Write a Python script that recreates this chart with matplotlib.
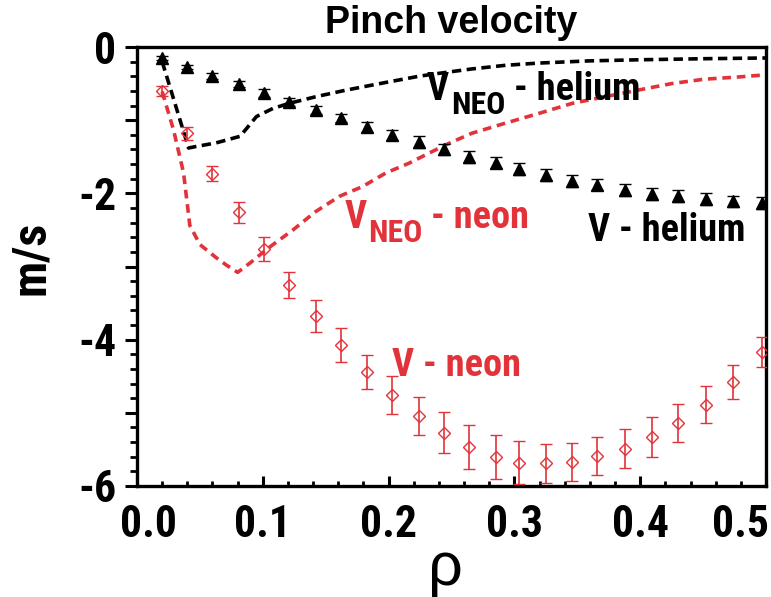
import matplotlib
matplotlib.use('Agg')
import matplotlib.pyplot as plt
import matplotlib.ticker as mticker
import matplotlib.transforms as mtransforms
from matplotlib import font_manager as fm
from matplotlib.font_manager import FontProperties
from matplotlib.textpath import TextPath

RED = '#e2323a'
WIDE = ['Liberation Sans', 'DejaVu Sans']
NARROW_CANDIDATES = ['Liberation Sans Narrow', 'Arial Narrow', 'Nimbus Sans Narrow', 'Archivo Narrow',
                     'Roboto Condensed', 'PT Sans Narrow', 'Fira Sans Condensed',
                     'IBM Plex Sans Condensed', 'Asap Condensed', 'Sofia Sans Condensed']

rho = [0.020, 0.040, 0.060, 0.081, 0.101, 0.121, 0.142, 0.162, 0.183, 0.203, 0.224, 0.244,
       0.264, 0.285, 0.304, 0.325, 0.346, 0.366, 0.388, 0.409, 0.430, 0.452, 0.474, 0.497]
v_helium = [-0.15, -0.27, -0.40, -0.51, -0.63, -0.75, -0.86, -0.97, -1.09, -1.20, -1.30, -1.40,
            -1.50, -1.58, -1.67, -1.75, -1.83, -1.88, -1.95, -2.01, -2.04, -2.08, -2.11, -2.13]
v_helium_err = [0.03, 0.03, 0.04, 0.04, 0.05, 0.05, 0.06, 0.06, 0.07, 0.07, 0.08, 0.08,
                0.08, 0.08, 0.08, 0.08, 0.08, 0.08, 0.08, 0.08, 0.08, 0.08, 0.08, 0.08]
v_neon = [-0.60, -1.18, -1.73, -2.26, -2.76, -3.25, -3.68, -4.07, -4.44, -4.76, -5.04, -5.27,
          -5.47, -5.60, -5.68, -5.69, -5.67, -5.59, -5.49, -5.33, -5.14, -4.89, -4.58, -4.17]
v_neon_err = [0.07, 0.09, 0.10, 0.14, 0.16, 0.18, 0.22, 0.23, 0.23, 0.26, 0.26, 0.28,
              0.30, 0.30, 0.29, 0.27, 0.26, 0.26, 0.27, 0.27, 0.26, 0.25, 0.23, 0.20]

# neoclassical predictions
neo_helium_rho = [0.020, 0.041, 0.047, 0.063, 0.082, 0.095, 0.108, 0.121, 0.142, 0.166, 0.193,
                  0.224, 0.240, 0.266, 0.293, 0.319, 0.359, 0.398, 0.451, 0.500]
neo_helium = [-0.20, -1.38, -1.36, -1.31, -1.22, -0.95, -0.84, -0.77, -0.68, -0.59, -0.50,
              -0.40, -0.36, -0.30, -0.25, -0.22, -0.19, -0.175, -0.16, -0.15]
neo_neon_rho = [0.020, 0.029, 0.037, 0.042, 0.050, 0.063, 0.071, 0.080, 0.090, 0.105, 0.124,
                0.142, 0.161, 0.179, 0.198, 0.216, 0.245, 0.266, 0.293, 0.319, 0.346, 0.372,
                0.398, 0.425, 0.451, 0.478, 0.500]
neo_neon = [-0.61, -1.13, -1.72, -2.44, -2.70, -2.88, -2.98, -3.08, -2.95, -2.74, -2.50,
            -2.25, -2.04, -1.91, -1.72, -1.59, -1.34, -1.18, -1.04, -0.91, -0.77, -0.68,
            -0.59, -0.50, -0.44, -0.41, -0.38]

x_ticks = [0.0, 0.1, 0.2, 0.3, 0.4, 0.5]
x_tick_labels = ['0.0', '0.1', '0.2', '0.3', '0.4', '0.5']
y_ticks = [0, -1, -2, -3, -4, -5, -6]
y_tick_labels = ['0', '', '-2', '', '-4', '', '-6']


def as_weight(w):
    try:
        return int(w)
    except (TypeError, ValueError):
        return 700 if 'bold' in str(w).lower() else 400


def pick_narrow():
    weights = {}
    for f in fm.fontManager.ttflist:
        weights.setdefault(f.name, set()).add(as_weight(f.weight))
    for name in NARROW_CANDIDATES:
        if any(w >= 700 for w in weights.get(name, ())):
            return name
    return 'Liberation Sans'


def fit_size(text, ink_px, family, weight='bold'):
    # font size (pt) giving the wanted ink width in pixels at 100 dpi
    prop = FontProperties(family=family, weight=weight)
    ext = TextPath((0, 0), text, size=100, prop=prop).get_extents().width
    return ink_px * 72 / ext


def label_with_sub(ax, x, y, sub, rest, color, family, size, sub_size):
    # "V" + subscript + rest, chained so that each piece starts where the last one ends
    t1 = ax.text(x, y, 'V', color=color, fontsize=size, fontweight='bold', family=family,
                 va='baseline', ha='left')
    t2 = ax.annotate(sub, xy=(1, y), xycoords=(t1, 'data'), xytext=(1.5, -10),
                     textcoords='offset points', color=color, fontsize=sub_size, fontweight='bold',
                     family=family, va='baseline', ha='left')
    ax.annotate(rest, xy=(1, y), xycoords=(t2, 'data'), xytext=(6, 0),
                textcoords='offset points', color=color, fontsize=size, fontweight='bold',
                family=family, va='baseline', ha='left')


def main():
    plt.rcParams['axes.unicode_minus'] = False
    narrow = pick_narrow()
    tick_size = fit_size('0.0', 53, narrow)
    note_size = fit_size('helium', 100, narrow)
    sub_size = fit_size('NEO', 51, narrow)
    ylabel_size = fit_size('m/s', 70, narrow)

    fig = plt.figure(figsize=(7.71, 5.97), dpi=100)
    ax = fig.add_axes([137 / 771, 1 - 486 / 597, 629 / 771, 439 / 597])

    ax.plot(neo_helium_rho, neo_helium, color='black', lw=2.6, dashes=(2.6, 1.5), zorder=2)
    ax.plot(neo_neon_rho, neo_neon, color=RED, lw=2.6, dashes=(2.4, 1.6), zorder=2)
    ax.errorbar(rho, v_helium, yerr=v_helium_err, fmt='^', color='black', ms=9,
                elinewidth=1.0, capsize=4, capthick=1.0, zorder=3)
    ax.errorbar(rho, v_neon, yerr=v_neon_err, fmt='D', mfc='none', mec=RED, mew=1.0, ms=6.5,
                ecolor=RED, elinewidth=1.2, capsize=4, capthick=1.2, zorder=3)

    ax.set_xlim(0, 0.5)
    ax.set_ylim(-6, 0)

    ax.xaxis.set_major_locator(mticker.FixedLocator(x_ticks))
    ax.xaxis.set_major_formatter(mticker.FixedFormatter(x_tick_labels))
    ax.xaxis.set_minor_locator(mticker.MultipleLocator(0.02))
    ax.yaxis.set_major_locator(mticker.FixedLocator(y_ticks))
    ax.yaxis.set_major_formatter(mticker.FixedFormatter(y_tick_labels))
    ax.yaxis.set_minor_locator(mticker.MultipleLocator(0.2))

    ax.tick_params(axis='x', which='major', direction='in', length=7, width=2.2, pad=13,
                   labelsize=tick_size)
    ax.tick_params(axis='x', which='minor', direction='in', length=3.6, width=2.0)
    ax.tick_params(axis='y', which='major', direction='out', length=8.6, width=2.2, pad=6.5,
                   labelsize=tick_size)
    ax.tick_params(axis='y', which='minor', direction='out', length=5, width=2.0)
    for lab in ax.get_xticklabels() + ax.get_yticklabels():
        lab.set_family(narrow)
        lab.set_fontweight('bold')
    for sp in ax.spines.values():
        sp.set_linewidth(2.4)

    xlabels = ax.get_xticklabels()
    xlabels[0].set_transform(xlabels[0].get_transform()
                             + mtransforms.ScaledTranslation(11 / 100, 0, fig.dpi_scale_trans))
    xlabels[-1].set_transform(xlabels[-1].get_transform()
                              + mtransforms.ScaledTranslation(-25 / 100, 0, fig.dpi_scale_trans))

    ax.set_title('Pinch velocity', fontsize=27, fontweight='bold', family=WIDE, pad=10)
    ax.set_ylabel('m/s', fontsize=ylabel_size, fontweight='bold', family=narrow, va='center')
    ax.yaxis.set_label_coords(-0.1685, 0.519)
    ax.set_xlabel('ρ', fontsize=44, family=WIDE)
    ax.xaxis.set_label_coords(0.491, -0.125)

    label_with_sub(ax, 0.2305, -0.72, 'NEO', '- helium', 'black', narrow, note_size, sub_size)
    label_with_sub(ax, 0.1648, -2.475, 'NEO', '- neon', RED, narrow, note_size, sub_size)
    ax.text(0.3588, -2.658, 'V - helium', color='black', fontsize=note_size, fontweight='bold',
            family=narrow, va='baseline', ha='left')
    ax.text(0.2028, -4.50, 'V - neon', color=RED, fontsize=note_size, fontweight='bold',
            family=narrow, va='baseline', ha='left')

    fig.savefig('out.png', dpi=100)


if __name__ == '__main__':
    main()
